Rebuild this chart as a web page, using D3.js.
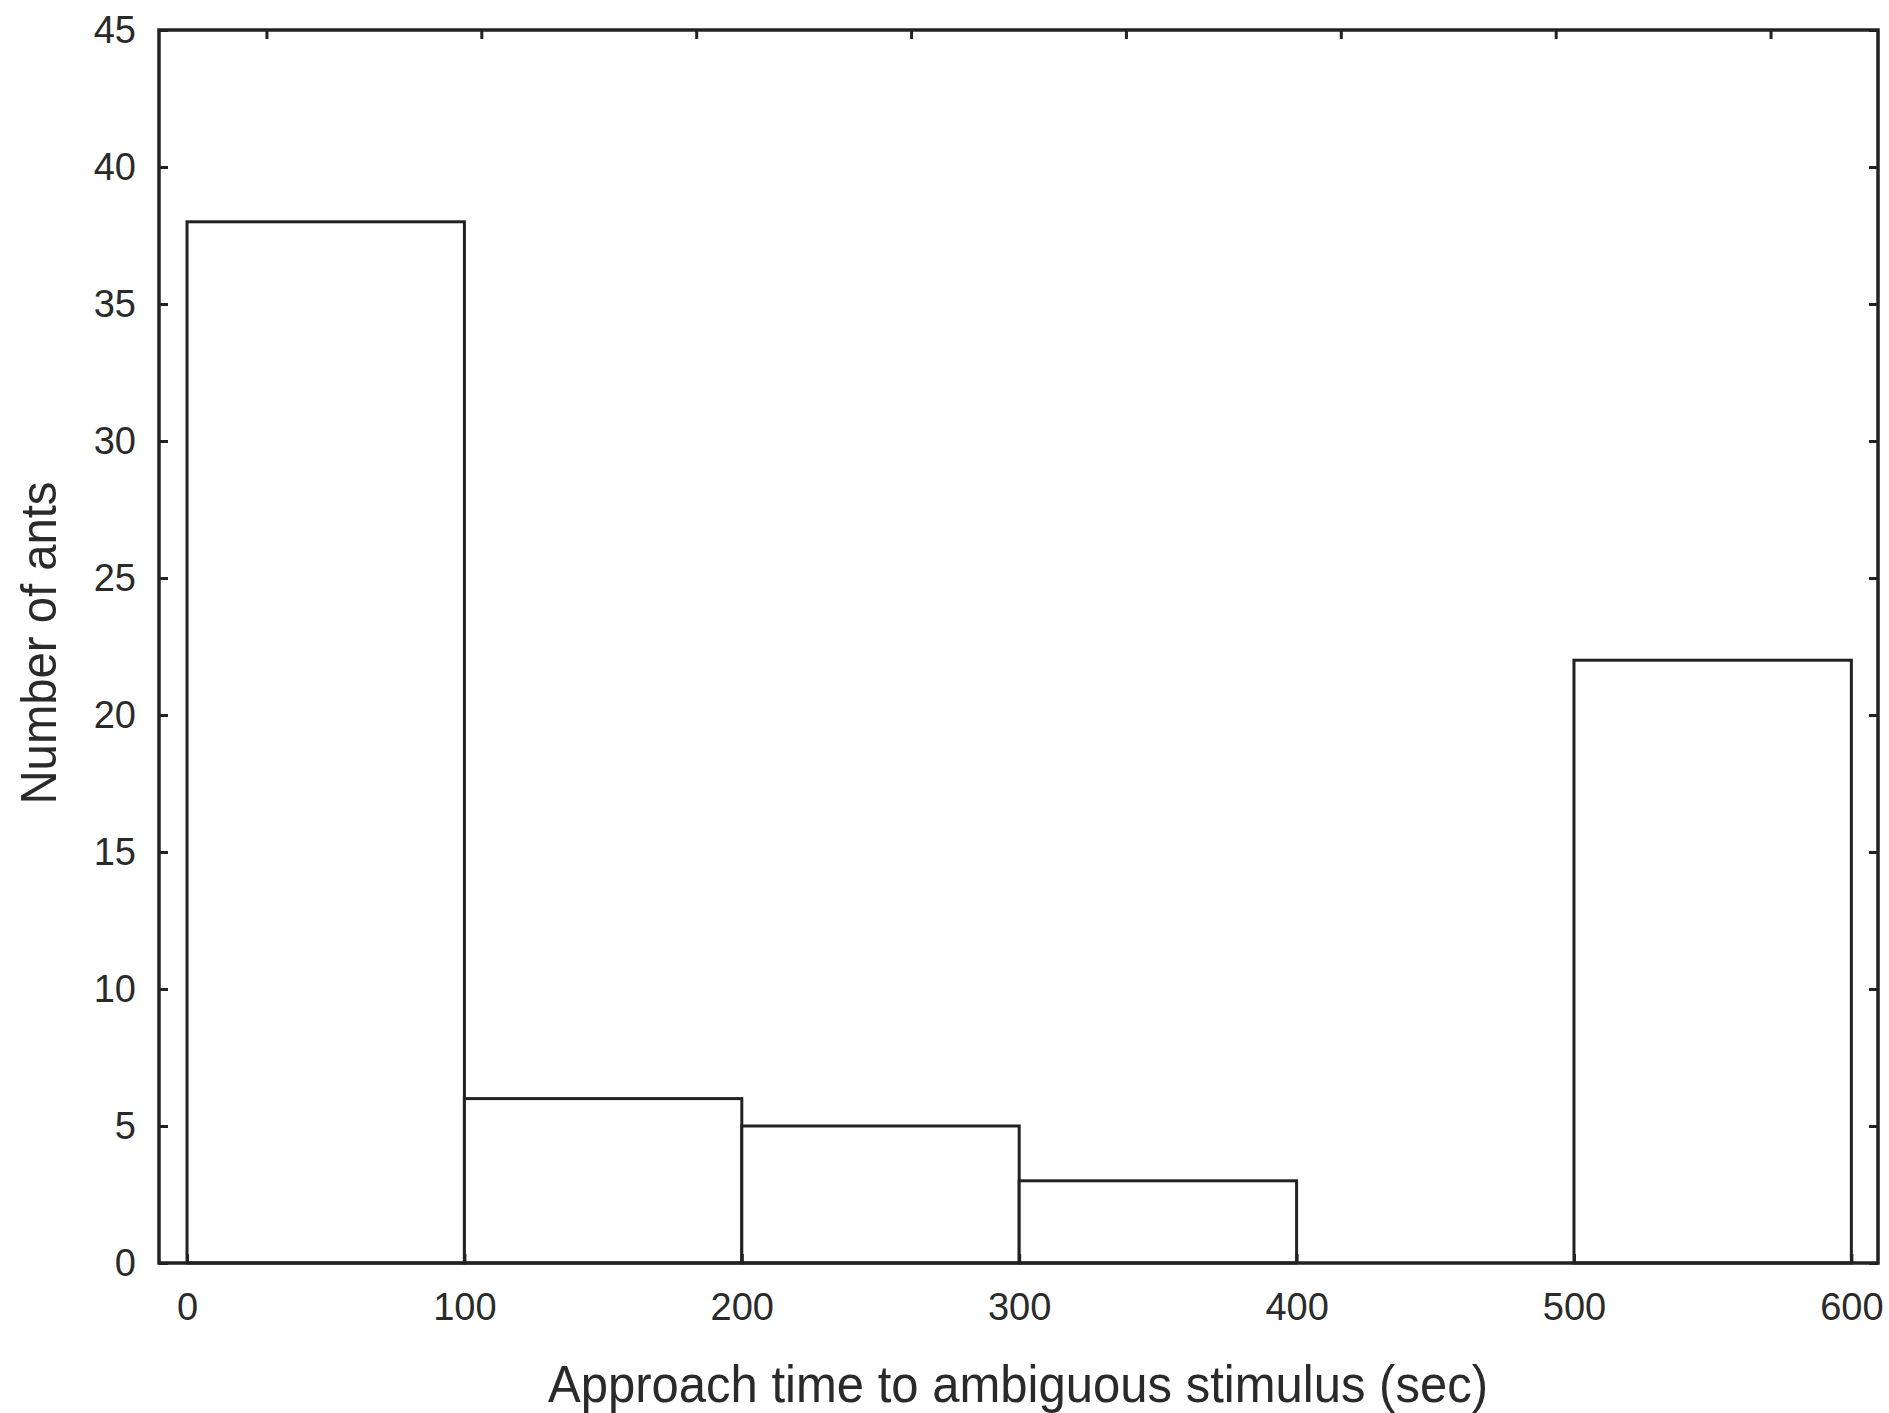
<!DOCTYPE html>
<html>
<head>
<meta charset="utf-8">
<script src="https://cdn.jsdelivr.net/npm/d3@7"></script>
<style>
	body { margin: 0; background: #fff; }
	.axis text { font-family: "Liberation Sans", Arial, sans-serif; font-size: 38px; fill: #2a2a2a; }
	.axis line { stroke: #222; stroke-width: 3; }
	.axis path { display: none; }
	.bar { fill: #fff; stroke: #222; stroke-width: 3; }
	.frame { fill: none; stroke: #222; stroke-width: 3.5; }
	.title { font-family: "Liberation Sans", Arial, sans-serif; fill: #2a2a2a; }
</style>
</head>
<body>
<div class="mainviz"></div>
<script>
// histogram bins (seconds) and counts
var binStarts = [0, 100, 200, 300, 400, 500];
var binEnds = [100, 200, 300, 400, 500, 600];
var counts = [38, 6, 5, 3, 0, 22];

var xTicks = [0, 100, 200, 300, 400, 500, 600];
var yTicks = [0, 5, 10, 15, 20, 25, 30, 35, 40, 45];
var topTicks = [1, 2, 3, 4, 5, 6, 7, 8];

var xTitle = "Approach time to ambiguous stimulus (sec)";
var yTitle = "Number of ants";

var margin = { top: 30, right: 11, bottom: 150, left: 159 };
var totalW = 1889, totalH = 1413;
var width = totalW - margin.left - margin.right,
	height = totalH - margin.top - margin.bottom;

var svg = d3.select(".mainviz").append("svg")
	.attr("width", totalW)
	.attr("height", totalH);

var g = svg.append("g")
	.attr("transform", "translate(" + margin.left + "," + margin.top + ")");

var x = d3.scaleLinear()
	.domain([-10.1, 609.6])
	.range([0, width]);

var y = d3.scaleLinear()
	.domain([0, 45])
	.range([height, 0]);

var xTop = d3.scalePoint()
	.domain(topTicks)
	.range([0, width])
	.padding(0.5);

var bins = binStarts.map(function(d, i) {
	return { x0: d, x1: binEnds[i], n: counts[i] };
});

g.selectAll("rect.bar")
	.data(bins.filter(function(d) { return d.n > 0; }))
	.enter().append("rect")
	.attr("class", "bar")
	.attr("x", function(d) { return x(d.x0); })
	.attr("width", function(d) { return x(d.x1) - x(d.x0); })
	.attr("y", function(d) { return y(d.n); })
	.attr("height", function(d) { return y(0) - y(d.n); });

g.append("g")
	.attr("class", "axis y")
	.call(d3.axisLeft(y).tickValues(yTicks).tickSizeInner(-9).tickSizeOuter(0).tickPadding(23));

g.append("g")
	.attr("class", "axis y2")
	.attr("transform", "translate(" + width + ",0)")
	.call(d3.axisRight(y).tickValues(yTicks).tickSizeInner(-9).tickSizeOuter(0).tickFormat(""));

g.append("g")
	.attr("class", "axis x")
	.attr("transform", "translate(0," + height + ")")
	.call(d3.axisBottom(x).tickValues(xTicks).tickSizeInner(-9).tickSizeOuter(0).tickPadding(30));

g.append("g")
	.attr("class", "axis x2")
	.call(d3.axisTop(xTop).tickSizeInner(-9).tickSizeOuter(0).tickFormat(""));

g.append("rect")
	.attr("class", "frame")
	.attr("x", 0)
	.attr("y", 0)
	.attr("width", width)
	.attr("height", height);

svg.append("text")
	.attr("class", "title")
	.attr("x", 1018)
	.attr("y", 1402)
	.attr("text-anchor", "middle")
	.attr("font-size", 52)
	.attr("textLength", 940)
	.attr("lengthAdjust", "spacingAndGlyphs")
	.text(xTitle);

svg.append("text")
	.attr("class", "title")
	.attr("transform", "translate(56,643) rotate(-90)")
	.attr("text-anchor", "middle")
	.attr("font-size", 50)
	.attr("textLength", 323)
	.attr("lengthAdjust", "spacingAndGlyphs")
	.text(yTitle);
</script>
</body>
</html>
